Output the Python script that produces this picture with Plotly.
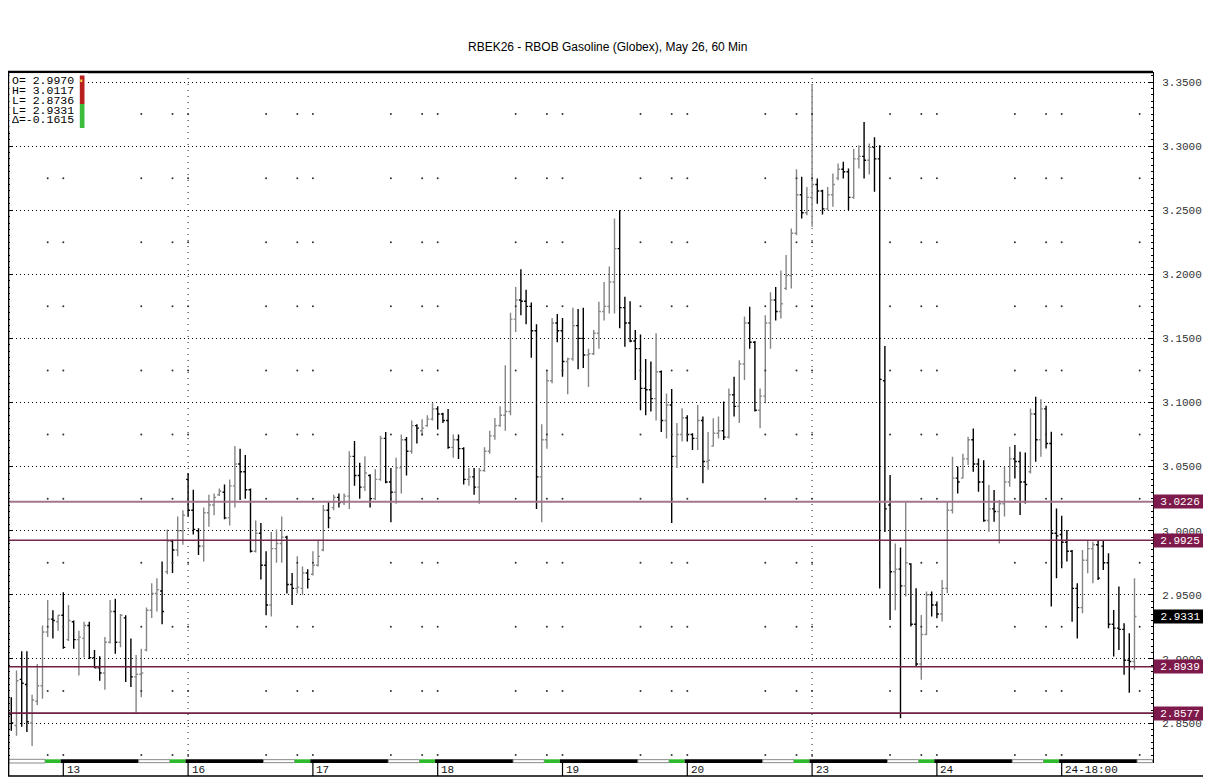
import plotly.graph_objects as go

# ---------------- data ----------------
opens = [
    2.857, 2.848, 2.884, 2.880, 2.850, 2.867, 2.879, 2.921, 2.931, 2.929,
    2.934, 2.915, 2.929, 2.915, 2.916, 2.926, 2.901, 2.893, 2.889, 2.913,
    2.937, 2.913, 2.932, 2.894, 2.886, 2.888, 2.907, 2.938, 2.951, 2.953,
    2.968, 2.992, 2.985, 3.000, 3.040, 3.016, 3.000, 2.988, 3.014, 3.020,
    3.028, 3.030, 3.010, 3.035, 3.052, 3.046, 3.032, 2.984, 2.998, 2.973,
    2.942, 2.986, 2.990, 2.995, 2.958, 2.955, 2.955, 2.967, 2.966, 2.973,
    2.985, 3.016, 3.018, 3.026, 3.022, 3.027, 3.058, 3.043, 3.034, 3.043,
    3.025, 3.040, 3.072, 3.038, 3.030, 3.049, 3.071, 3.062, 3.082, 3.078,
    3.082, 3.087, 3.095, 3.091, 3.086, 3.065, 3.071, 3.064, 3.040, 3.042,
    3.034, 3.047, 3.062, 3.074, 3.082, 3.090, 3.093, 3.165, 3.180, 3.179,
    3.175, 3.156, 3.042, 3.071, 3.117, 3.162, 3.156, 3.132, 3.134, 3.160,
    3.150, 3.137, 3.138, 3.154, 3.171, 3.175, 3.194, 3.220, 3.174, 3.162,
    3.148, 3.142, 3.111, 3.110, 3.103, 3.124, 3.086, 3.098, 3.058, 3.075,
    3.088, 3.075, 3.072, 3.086, 3.054, 3.066, 3.076, 3.078, 3.073, 3.106,
    3.097, 3.130, 3.162, 3.147, 3.094, 3.105, 3.162, 3.180, 3.171, 3.189,
    3.199, 3.232, 3.262, 3.248, 3.260, 3.270, 3.265, 3.251, 3.262, 3.275,
    3.282, 3.280, 3.260, 3.290, 3.292, 3.289, 3.299, 3.290, 3.117, 3.020,
    2.968, 2.970, 2.957, 2.974, 2.927, 2.896, 2.919, 2.950, 2.942, 2.935,
    2.955, 3.016, 3.041, 3.041, 3.056, 3.071, 3.052, 3.038, 3.008, 3.017,
    3.015, 3.021, 3.038, 3.056, 3.054, 3.038, 3.046, 3.091, 3.071, 3.095,
    3.068, 2.998, 2.997, 2.991, 2.984, 2.955, 2.940, 2.977, 2.986, 2.989,
    2.988, 2.975, 2.927, 2.924, 2.923, 2.899, 2.898,
]
highs = [
    2.870, 2.891, 2.906, 2.906, 2.872, 2.896, 2.926, 2.946, 2.938, 2.934,
    2.952, 2.942, 2.930, 2.922, 2.929, 2.929, 2.907, 2.902, 2.917, 2.946,
    2.947, 2.935, 2.934, 2.916, 2.903, 2.908, 2.940, 2.959, 2.963, 2.976,
    3.001, 2.993, 3.011, 3.016, 3.045, 3.032, 3.002, 3.018, 3.028, 3.029,
    3.033, 3.036, 3.040, 3.066, 3.064, 3.059, 3.033, 3.008, 3.006, 2.984,
    2.999, 3.001, 3.011, 2.996, 2.967, 2.980, 2.972, 2.970, 2.984, 2.993,
    3.020, 3.023, 3.028, 3.029, 3.029, 3.062, 3.070, 3.053, 3.058, 3.044,
    3.048, 3.074, 3.077, 3.049, 3.057, 3.075, 3.073, 3.086, 3.083, 3.087,
    3.090, 3.0995, 3.097, 3.092, 3.095, 3.075, 3.075, 3.065, 3.049, 3.049,
    3.049, 3.065, 3.078, 3.088, 3.097, 3.129, 3.170, 3.190, 3.204, 3.188,
    3.178, 3.161, 3.083, 3.125, 3.166, 3.169, 3.166, 3.135, 3.174, 3.173,
    3.174, 3.142, 3.1565, 3.1786, 3.194, 3.206, 3.2435, 3.250, 3.1825, 3.179,
    3.1565, 3.153, 3.134, 3.132, 3.154, 3.125, 3.107, 3.1105, 3.084, 3.0955,
    3.090, 3.076, 3.098, 3.089, 3.077, 3.0877, 3.089, 3.1007, 3.111, 3.120,
    3.133, 3.167, 3.1747, 3.148, 3.111, 3.168, 3.186, 3.190, 3.203, 3.215,
    3.2357, 3.282, 3.276, 3.268, 3.348, 3.2747, 3.266, 3.268, 3.2786, 3.2864,
    3.2877, 3.2825, 3.298, 3.3007, 3.3188, 3.302, 3.307, 3.3007, 3.144, 3.0434,
    2.990, 2.9868, 3.0221, 2.9746, 2.9551, 2.9343, 2.9525, 2.9525, 2.9447, 2.9616,
    3.0226, 3.0577, 3.050, 3.060, 3.0733, 3.0797, 3.0564, 3.055, 3.0356, 3.0317,
    3.0239, 3.0499, 3.0655, 3.0668, 3.0616, 3.061, 3.0953, 3.1044, 3.1026, 3.0974,
    3.0771, 3.0174, 3.0117, 3.0005, 2.985, 2.959, 2.985, 2.9927, 2.9914, 2.9927,
    2.9927, 2.9824, 2.9382, 2.9564, 2.9278, 2.920, 2.9629,
]
lows = [
    2.844, 2.840, 2.847, 2.843, 2.832, 2.864, 2.869, 2.917, 2.916, 2.922,
    2.908, 2.914, 2.908, 2.887, 2.901, 2.900, 2.893, 2.883, 2.876, 2.912,
    2.904, 2.909, 2.882, 2.878, 2.858, 2.870, 2.906, 2.932, 2.937, 2.927,
    2.966, 2.967, 2.980, 2.989, 3.011, 2.997, 2.981, 2.976, 3.003, 3.012,
    3.027, 3.009, 3.004, 3.018, 3.024, 3.025, 2.983, 2.983, 2.962, 2.934,
    2.933, 2.975, 2.975, 2.951, 2.942, 2.951, 2.950, 2.955, 2.965, 2.972,
    2.984, 3.002, 3.016, 3.018, 3.020, 3.017, 3.035, 3.025, 3.031, 3.018,
    3.024, 3.039, 3.037, 3.0065, 3.021, 3.029, 3.043, 3.060, 3.068, 3.074,
    3.081, 3.086, 3.079, 3.084, 3.064, 3.057, 3.056, 3.036, 3.035, 3.028,
    3.021, 3.046, 3.060, 3.071, 3.081, 3.078, 3.090, 3.155, 3.168, 3.161,
    3.135, 3.017, 3.0065, 3.064, 3.115, 3.147, 3.120, 3.1065, 3.1325, 3.126,
    3.127, 3.112, 3.137, 3.142, 3.164, 3.1695, 3.1695, 3.158, 3.1435, 3.147,
    3.1176, 3.094, 3.090, 3.093, 3.086, 3.077, 3.072, 3.006, 3.049, 3.0695,
    3.0695, 3.063, 3.063, 3.037, 3.0475, 3.0656, 3.072, 3.0708, 3.072, 3.089,
    3.084, 3.1176, 3.142, 3.093, 3.080, 3.0994, 3.142, 3.164, 3.1656, 3.1877,
    3.189, 3.2305, 3.2435, 3.246, 3.237, 3.255, 3.2466, 3.250, 3.2526, 3.2734,
    3.2747, 3.250, 3.259, 3.2825, 3.2747, 3.2778, 3.2643, 2.955, 2.999, 2.9304,
    2.938, 2.8538, 2.9486, 2.9252, 2.8941, 2.8837, 2.9187, 2.933, 2.9317, 2.9291,
    2.9512, 3.0135, 3.029, 3.0408, 3.0512, 3.046, 3.0304, 3.007, 2.9992, 3.007,
    2.990, 3.011, 3.0343, 3.0408, 3.0122, 3.0213, 3.0447, 3.0538, 3.0577, 3.0642,
    2.9408, 2.9629, 2.9707, 2.9759, 2.929, 2.916, 2.9356, 2.9668, 2.959, 2.9616,
    2.9694, 2.924, 2.9019, 2.907, 2.8876, 2.8736, 2.8915,
]
closes = [
    2.850, 2.883, 2.881, 2.851, 2.868, 2.879, 2.921, 2.931, 2.930, 2.934,
    2.909, 2.930, 2.915, 2.917, 2.926, 2.901, 2.893, 2.889, 2.913, 2.937,
    2.913, 2.934, 2.894, 2.886, 2.888, 2.889, 2.938, 2.951, 2.954, 2.937,
    2.992, 2.985, 3.000, 3.012, 3.016, 3.001, 2.988, 3.014, 3.020, 3.026,
    3.031, 3.010, 3.035, 3.052, 3.046, 3.032, 2.984, 2.998, 2.973, 2.942,
    2.986, 2.990, 2.995, 2.958, 2.955, 2.956, 2.967, 2.962, 2.973, 2.980,
    3.016, 3.010, 3.026, 3.022, 3.027, 3.058, 3.043, 3.034, 3.045, 3.025,
    3.040, 3.072, 3.038, 3.030, 3.049, 3.071, 3.062, 3.082, 3.080, 3.080,
    3.087, 3.095, 3.091, 3.086, 3.065, 3.071, 3.064, 3.040, 3.042, 3.034,
    3.047, 3.062, 3.074, 3.082, 3.090, 3.093, 3.165, 3.180, 3.179, 3.175,
    3.156, 3.042, 3.071, 3.117, 3.162, 3.156, 3.132, 3.134, 3.160, 3.150,
    3.137, 3.138, 3.154, 3.171, 3.175, 3.194, 3.220, 3.174, 3.162, 3.148,
    3.142, 3.111, 3.110, 3.103, 3.124, 3.086, 3.098, 3.058, 3.075, 3.088,
    3.075, 3.072, 3.086, 3.054, 3.055, 3.076, 3.078, 3.073, 3.106, 3.097,
    3.130, 3.162, 3.147, 3.094, 3.105, 3.162, 3.180, 3.171, 3.177, 3.199,
    3.232, 3.262, 3.248, 3.260, 3.270, 3.265, 3.251, 3.262, 3.270, 3.282,
    3.280, 3.260, 3.290, 3.292, 3.289, 3.299, 3.290, 3.118, 3.017, 2.968,
    2.970, 2.957, 2.975, 2.927, 2.896, 2.919, 2.950, 2.942, 2.935, 2.955,
    3.016, 3.041, 3.038, 3.056, 3.071, 3.052, 3.038, 3.008, 3.017, 3.015,
    3.021, 3.038, 3.056, 3.054, 3.038, 3.036, 3.091, 3.071, 3.095, 3.068,
    2.998, 2.996, 2.991, 2.984, 2.955, 2.940, 2.977, 2.986, 2.989, 2.963,
    2.975, 2.927, 2.924, 2.923, 2.899, 2.898, 2.9331,
]
assert len(opens) == len(highs) == len(lows) == len(closes) == 217
bar_index = list(range(len(opens)))

day_labels = ["13", "16", "17", "18", "19", "20", "23", "24", "24-18:00"]
day_slots = [10, 34, 58, 82, 106, 130, 154, 178, 202]
week_slots = [34, 154]

ytick_vals = [2.85, 2.90, 2.95, 3.00, 3.05, 3.10, 3.15, 3.20, 3.25, 3.30, 3.35]
half_levels = [2.825, 2.875, 2.925, 2.975, 3.025, 3.075, 3.125, 3.175, 3.225, 3.275, 3.325]

levels = [3.0226, 2.9925, 2.8939, 2.8577]
level_line_colors = ["#a3768f", "#74294d", "#6e2043", "#6e2043"]
level_line_widths = [2.0, 1.6, 1.6, 1.6]
last_price = 2.9331

info_lines = ["O= 2.9970", "H= 3.0117", "L= 2.8736", "L= 2.9331", "\u0394=-0.1615"]
title_text = "RBEK26 - RBOB Gasoline (Globex), May 26, 60 Min"

# ---------------- layout geometry ----------------
# The page body has an 8px margin, so figure pixel = screen pixel - 8.
OFF = 8
W, H = 1211 - OFF, 781 - OFF
S_PL, S_PR, S_PT, S_PB = 8, 1153, 72, 763          # plot area in screen pixels
PL, PR, PT, PB = S_PL - OFF, S_PR - OFF, S_PT - OFF, S_PB - OFF
X_RANGE = [-0.635, 219.56]
Y_RANGE = [2.8188, 3.3578]


def xp(sx):
    """screen x pixel -> paper x"""
    return (sx - S_PL) / (S_PR - S_PL)


def yp(sy):
    """screen y pixel -> paper y"""
    return (S_PB - sy) / (S_PB - S_PT)


MONO = "Liberation Mono"
SANS = "Liberation Sans"
MAROON = "#7e1a4b"

fig = go.Figure()

fig.add_trace(go.Ohlc(
    x=bar_index, open=opens, high=highs, low=lows, close=closes,
    increasing=dict(line=dict(color="#858585", width=1.4)),
    decreasing=dict(line=dict(color="#000000", width=1.4)),
    tickwidth=0.38, hoverinfo="none", showlegend=False,
))

# sparse session dots at half levels
dot_x, dot_y = [], []
for L in day_slots:
    for sx in (L - 3, L, L + 15):
        for lv in half_levels:
            dot_x.append(sx)
            dot_y.append(lv)
fig.add_trace(go.Scatter(
    x=dot_x, y=dot_y, mode="markers",
    marker=dict(size=2, color="#333333", line=dict(width=0)),
    hoverinfo="skip", showlegend=False,
))

shapes = []
for ws in week_slots:
    shapes.append(dict(type="line", xref="x", yref="paper", x0=ws, x1=ws, y0=0, y1=1,
                       line=dict(color="#222222", width=1, dash="1px,5px"), layer="below"))

for lv, c, w in zip(levels, level_line_colors, level_line_widths):
    shapes.append(dict(type="line", xref="paper", yref="y", x0=0, x1=1, y0=lv, y1=lv,
                       line=dict(color=c, width=w), layer="above"))

# session strip at bottom
sy0, sy1 = yp(763), yp(759.3)
shapes.append(dict(type="rect", xref="x", yref="paper", x0=-0.5, x1=day_slots[0] - 3.5,
                   y0=sy0, y1=sy1, fillcolor="white", line=dict(color="#8a8a8a", width=1)))
for i, L in enumerate(day_slots):
    shapes.append(dict(type="rect", xref="x", yref="paper", x0=L - 3.5, x1=L - 0.5,
                       y0=sy0, y1=sy1, fillcolor="#2dbb2d", line=dict(width=0)))
    shapes.append(dict(type="rect", xref="x", yref="paper", x0=L - 0.5, x1=L + 14.5,
                       y0=sy0, y1=sy1, fillcolor="#000000", line=dict(width=0)))
    end = (day_slots[i + 1] - 3.5) if i + 1 < len(day_slots) else X_RANGE[1] - 0.1
    shapes.append(dict(type="rect", xref="x", yref="paper", x0=L + 14.5, x1=end,
                       y0=sy0 + 0.0005, y1=sy1 - 0.0005, fillcolor="white",
                       line=dict(color="#8a8a8a", width=1)))
    shapes.append(dict(type="line", xref="x", yref="paper", x0=L, x1=L,
                       y0=yp(776), y1=yp(763), line=dict(color="#000", width=1.2)))

# frame
shapes.append(dict(type="line", xref="paper", yref="paper", x0=0, x1=1, y0=1, y1=1,
                   line=dict(color="#000", width=2.5)))
shapes.append(dict(type="line", xref="paper", yref="paper", x0=xp(8.6), x1=xp(8.6),
                   y0=yp(776), y1=1, line=dict(color="#000", width=1.5)))
shapes.append(dict(type="line", xref="paper", yref="paper", x0=xp(8), x1=xp(1206), y0=yp(776),
                   y1=yp(776), line=dict(color="#000", width=1.5)))
shapes.append(dict(type="line", xref="paper", yref="paper", x0=xp(1206.5), x1=xp(1206.5),
                   y0=yp(777), y1=1, line=dict(color="#a0a0a0", width=3)))

# info box background and colour bar
shapes.append(dict(type="rect", xref="paper", yref="paper", x0=xp(9.5), x1=xp(88),
                   y0=yp(131), y1=yp(73.3), fillcolor="white", line=dict(width=0), layer="above"))
shapes.append(dict(type="rect", xref="paper", yref="paper", x0=xp(79.8), x1=xp(84.5),
                   y0=yp(104), y1=yp(75.5), fillcolor="#b81f1f", line=dict(width=0), layer="above"))
shapes.append(dict(type="rect", xref="paper", yref="paper", x0=xp(79.8), x1=xp(84.5),
                   y0=yp(128), y1=yp(104), fillcolor="#3dbb3d", line=dict(width=0), layer="above"))
shapes.append(dict(type="rect", xref="paper", yref="paper", x0=xp(80.3), x1=xp(82.3),
                   y0=yp(82), y1=yp(79.5), fillcolor="#f0e040", line=dict(width=0), layer="above"))

annotations = []
annotations.append(dict(xref="paper", yref="paper", x=xp(607), y=yp(47), text=title_text,
                        showarrow=False, font=dict(family=SANS, size=12, color="#000"),
                        xanchor="center", yanchor="middle"))
for i, t in enumerate(info_lines):
    annotations.append(dict(xref="paper", yref="paper", x=xp(9.5), y=yp(80 + i * 9.85), text=t,
                            showarrow=False, font=dict(family=MONO, size=11.5, color="#000"),
                            xanchor="left", yanchor="middle", height=10))
for lab, L in zip(day_labels, day_slots):
    annotations.append(dict(xref="x", yref="paper", x=L, y=yp(769.5), text=lab, xshift=1.5,
                            showarrow=False, font=dict(family=MONO, size=11, color="#111"),
                            xanchor="left", yanchor="middle"))
for lv in levels:
    annotations.append(dict(xref="paper", yref="y", x=1, y=lv, text=f"{lv:.4f}",
                            showarrow=False, font=dict(family=MONO, size=11, color="#ffffff"),
                            xanchor="left", yanchor="middle", bgcolor=MAROON,
                            width=50, height=11, borderpad=1, align="center"))
annotations.append(dict(xref="paper", yref="y", x=1, y=last_price, text=f"{last_price:.4f}",
                        showarrow=False, font=dict(family=MONO, size=11, color="#ffffff"),
                        xanchor="left", yanchor="middle", bgcolor="#000000",
                        width=51, height=11, borderpad=1, align="center"))

fig.update_layout(
    width=W, height=H,
    margin=dict(l=PL, r=W - PR, t=PT, b=H - PB, pad=0),
    paper_bgcolor="white", plot_bgcolor="white",
    showlegend=False,
    shapes=shapes, annotations=annotations,
    xaxis=dict(range=X_RANGE, showgrid=False, zeroline=False, showticklabels=False,
               ticks="", showline=False, rangeslider=dict(visible=False), fixedrange=True),
    yaxis=dict(range=Y_RANGE, side="right", tickvals=ytick_vals,
               ticktext=[f"{v:.4f}" for v in ytick_vals],
               tickfont=dict(family=MONO, size=11, color="#333333"),
               showgrid=True, gridcolor="#000000", gridwidth=1, griddash="1px,3px",
               showline=True, linecolor="#000000", linewidth=1, mirror="allticks",
               ticks="inside", ticklen=4, tickcolor="#000000", tickwidth=1,
               minor=dict(dtick=0.005, tick0=2.85, ticks="inside", ticklen=2,
                          tickcolor="#000000", tickwidth=1, showgrid=False),
               zeroline=False, ticklabelstandoff=6, fixedrange=True),
)

fig.write_html("out.html")
